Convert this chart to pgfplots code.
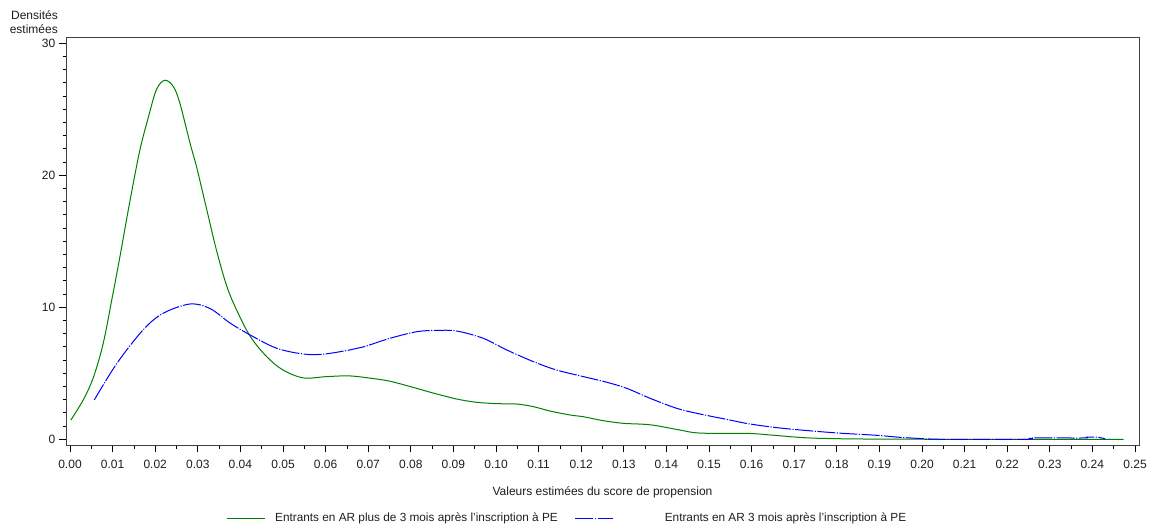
\documentclass[border=0pt]{standalone}
\usepackage{fontspec}
\setmainfont{Liberation Sans}
\usepackage{pgfplots}
\pgfplotsset{compat=1.18}
\definecolor{sasgreen}{HTML}{008000}
\definecolor{sasblue}{HTML}{0000FF}
\definecolor{txt}{HTML}{1E1E1E}
\definecolor{frame}{HTML}{404040}
\begin{document}
\fontsize{12bp}{14bp}\selectfont
\begin{tikzpicture}
\useasboundingbox (0,0) rectangle (1155bp,531bp);
\begin{axis}[
  at={(66bp,85.5bp)}, anchor=south west,
  scale only axis, width=1073bp, height=407.5bp,
  xmin=-0.00094, xmax=0.25094, ymin=-0.47, ymax=30.4,
  xtick={0,0.01,0.02,0.03,0.04,0.05,0.06,0.07,0.08,0.09,0.10,0.11,0.12,0.13,0.14,0.15,0.16,0.17,0.18,0.19,0.20,0.21,0.22,0.23,0.24,0.25},
  xticklabels={0.00,0.01,0.02,0.03,0.04,0.05,0.06,0.07,0.08,0.09,0.10,0.11,0.12,0.13,0.14,0.15,0.16,0.17,0.18,0.19,0.20,0.21,0.22,0.23,0.24,0.25},
  ytick={0,10,20,30},
  yticklabels={0,10,20,30},
  minor x tick num=1, minor y tick num=9,
  xtick pos=bottom, ytick pos=left,
  tick align=outside,
  major tick length=6.5bp, minor tick length=3bp,
  every tick/.style={black, line width=0.8bp},
  axis line style={draw=frame, line width=1bp},
  tick label style={font=\fontsize{12bp}{14bp}\selectfont, text=txt},
  xticklabel style={yshift=-3.5bp},
  /pgf/number format/assume math mode=true,
  xlabel={Valeurs estimées du score de propension},
  xlabel style={at={(axis description cs:0.5,-0.114)}, anchor=center, font=\fontsize{12bp}{14bp}\selectfont, text=txt},
  legend style={at={(axis description cs:0.1463,-0.178)}, anchor=west, draw=none, fill=none,
    legend columns=2, font=\fontsize{11.8bp}{14bp}\selectfont, text=txt,
    nodes={inner sep=0pt},
    /tikz/every odd column/.append style={column sep=10bp},
    /tikz/every even column/.append style={column sep=17bp}},
  legend image code/.code={\draw[#1] (0bp,0bp) -- (38bp,0bp);},
]
\addplot[sasgreen, line width=1bp, smooth, tension=0.55] coordinates {
(0.0002,1.46) (0.0031,2.98) (0.0055,4.7) (0.0078,7.27) (0.0098,10.55) (0.0117,13.8)
(0.0141,18.1) (0.0164,21.9) (0.0184,24.4) (0.0203,26.5) (0.0223,27.2) (0.0243,26.7)
(0.0258,25.45) (0.0282,22.4) (0.0297,20.65) (0.0321,17.4) (0.0344,14.3) (0.0368,11.6)
(0.0391,9.8) (0.0423,7.8) (0.0462,6.25) (0.0500,5.25) (0.0548,4.65) (0.0603,4.75)
(0.0657,4.8) (0.0712,4.6) (0.0751,4.4) (0.0798,4.0) (0.0853,3.5) (0.0908,3.05)
(0.0955,2.8) (0.1002,2.7) (0.1049,2.67) (0.1088,2.47) (0.1127,2.14) (0.1174,1.84)
(0.1205,1.71) (0.1252,1.41) (0.1299,1.21) (0.1346,1.14) (0.1377,1.03) (0.1432,0.7)
(0.1479,0.47) (0.1589,0.45) (0.1643,0.33) (0.1737,0.1) (0.1870,0.02) (0.2100,0.0)
(0.2473,0.0)
};
\addlegendentry{Entrants en AR plus de 3 mois après l'inscription à PE}
\addplot[sasblue, line width=1bp, smooth, tension=0.55, dash pattern=on 18bp off 1.5bp on 1.2bp off 1.5bp] coordinates {
(0.0057,2.98) (0.0110,5.75) (0.0172,8.3) (0.0219,9.55) (0.0282,10.25) (0.0329,9.9)
(0.0376,8.8) (0.0423,7.9) (0.0485,6.9) (0.0548,6.46) (0.0595,6.45) (0.0657,6.77)
(0.0689,7.0) (0.0751,7.65) (0.0814,8.15) (0.0861,8.25) (0.0908,8.2) (0.0970,7.65)
(0.1025,6.77) (0.1088,5.88) (0.1142,5.25) (0.1205,4.75) (0.1260,4.32) (0.1307,3.86)
(0.1362,3.1) (0.1424,2.35) (0.1471,1.97) (0.1549,1.46) (0.1596,1.16) (0.1674,0.83)
(0.1792,0.5) (0.1894,0.3) (0.1948,0.15) (0.2003,0.05) (0.2050,0.0) (0.2246,0.0)
(0.2260,0.1) (0.2380,0.1) (0.2386,0.17) (0.2414,0.15) (0.2430,0.03)
};
\addlegendentry{\hspace{41bp}Entrants en AR 3 mois après l'inscription à PE}
\end{axis}
\node[anchor=east, align=right, inner sep=0pt, text=txt, font=\fontsize{12bp}{14bp}\selectfont] at (58bp,509bp) {Densités\\estimées};
\end{tikzpicture}
\end{document}
